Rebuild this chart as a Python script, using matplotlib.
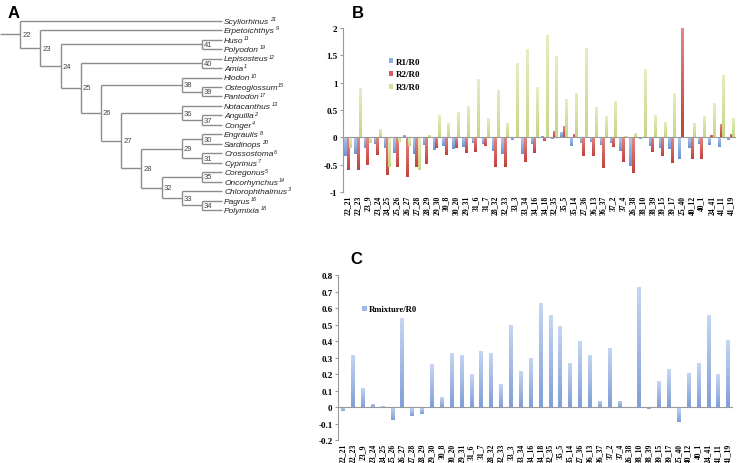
import numpy as np
import matplotlib
matplotlib.use('Agg')
import matplotlib.pyplot as plt
from matplotlib.colors import LinearSegmentedColormap

# ---- data ----
branches = ['22_21', '22_23', '23_9', '23_24', '24_25', '25_26', '26_27', '27_28', '28_29', '29_30',
            '30_8', '30_20', '29_31', '31_6', '31_7', '28_32', '32_33', '33_3', '33_34', '34_16',
            '34_18', '32_35', '35_5', '35_14', '27_36', '36_13', '36_37', '37_2', '37_4', '26_38',
            '38_10', '38_39', '39_15', '39_17', '25_40', '40_12', '40_1', '24_41', '41_11', '41_19']
r1 = [-0.35, -0.3, -0.2, -0.12, -0.2, -0.28, 0.05, -0.3, -0.14, -0.24,
      -0.15, -0.22, -0.18, -0.1, -0.12, -0.25, -0.3, -0.05, -0.3, -0.12,
      0.03, -0.03, 0.1, -0.16, -0.1, -0.08, -0.14, -0.1, -0.25, -0.53,
      -0.03, -0.15, -0.2, -0.22, -0.4, -0.2, -0.12, -0.14, -0.17, -0.05]
r2 = [-0.6, -0.6, -0.5, -0.32, -0.68, -0.55, -0.73, -0.55, -0.49, -0.19,
      -0.33, -0.2, -0.28, -0.27, -0.16, -0.55, -0.55, 0.0, -0.45, -0.28,
      -0.07, 0.12, 0.2, 0.06, -0.35, -0.35, -0.57, -0.18, -0.46, -0.65,
      0.0, -0.26, -0.35, -0.47, 2.0, -0.39, -0.39, 0.05, 0.24, 0.07]
r3 = [-0.2, 0.9, -0.1, 0.15, -0.55, -0.08, -0.15, -0.6, 0.05, 0.40,
      0.26, 0.46, 0.58, 1.06, 0.35, 0.87, 0.26, 1.36, 1.62, 0.92,
      1.87, 1.49, 0.70, 0.82, 1.63, 0.55, 0.39, 0.66, 0.03, 0.08,
      1.25, 0.40, 0.28, 0.82, 0.0, 0.26, 0.39, 0.62, 1.14, 0.36]
rmix = [-0.02, 0.32, 0.12, 0.02, 0.005, -0.08, 0.54, -0.05, -0.04, 0.26,
        0.06, 0.33, 0.32, 0.2, 0.34, 0.33, 0.14, 0.5, 0.22, 0.3,
        0.63, 0.56, 0.49, 0.27, 0.4, 0.32, 0.04, 0.36, 0.04, 0.003,
        0.73, -0.01, 0.16, 0.23, -0.09, 0.21, 0.27, 0.56, 0.2, 0.41]

tips = ['Scyliorhinus', 'Erpetoichthys', 'Huso', 'Polyodon', 'Lepisosteus', 'Amia', 'Hiodon',
        'Osteoglossum', 'Pantodon', 'Notacanthus', 'Anguilla', 'Conger', 'Engraulis', 'Sardinops',
        'Crossostoma', 'Cyprinus', 'Coregonus', 'Oncorhynchus', 'Chlorophthalmus', 'Pagrus', 'Polymixia']
tip_refs = [21, 9, 11, 19, 12, 1, 10, 15, 17, 13, 2, 4, 8, 20, 6, 7, 5, 14, 3, 16, 18]
# node label -> (depth, children)
clades = {
    22: (1, ['Scyliorhinus', 23]),
    23: (2, ['Erpetoichthys', 24]),
    24: (3, [41, 25]),
    41: (10, ['Huso', 'Polyodon']),
    25: (4, [40, 26]),
    40: (10, ['Lepisosteus', 'Amia']),
    26: (5, [38, 27]),
    38: (9, ['Hiodon', 39]),
    39: (10, ['Osteoglossum', 'Pantodon']),
    27: (6, [36, 28]),
    36: (9, ['Notacanthus', 37]),
    37: (10, ['Anguilla', 'Conger']),
    28: (7, [29, 32]),
    29: (9, [30, 31]),
    30: (10, ['Engraulis', 'Sardinops']),
    31: (10, ['Crossostoma', 'Cyprinus']),
    32: (8, [35, 33]),
    35: (10, ['Coregonus', 'Oncorhynchus']),
    33: (9, ['Chlorophthalmus', 34]),
    34: (10, ['Pagrus', 'Polymixia']),
}
TIP_DEPTH = 11

W, H = 739, 464
fig = plt.figure(figsize=(W / 100, H / 100), dpi=100)
fig.patch.set_facecolor('white')


def gradient_bars(ax, bars, top_color, bottom_color):
    cmap = LinearSegmentedColormap.from_list('grad', [bottom_color, top_color])
    ramp = np.linspace(0, 1, 64).reshape(-1, 1)
    for b in bars:
        x0, y0 = b.get_xy()
        bw, bh = b.get_width(), b.get_height()
        if bh == 0:
            continue
        lo, hi = min(y0, y0 + bh), max(y0, y0 + bh)
        b.set_facecolor('none')
        b.set_edgecolor('none')
        im = ax.imshow(ramp, extent=[x0, x0 + bw, lo, hi], origin='lower', aspect='auto',
                       cmap=cmap, zorder=b.get_zorder(), interpolation='bilinear')
        im.set_clip_path(b)


# ---- A: tree (axes in pixel units) ----
axA = fig.add_axes([0, 0, 300 / W, 1])
axA.set_xlim(0, 300)
axA.set_ylim(H, 0)
axA.axis('off')

x_step, y0, y_step = 20.2, 21.7, 9.47
line_kw = dict(color='#8c8c8c', lw=1.0, solid_capstyle='butt')


def depth(n):
    return TIP_DEPTH if isinstance(n, str) else clades[n][0]


def ypos(n):
    if isinstance(n, str):
        return y0 + tips.index(n) * y_step
    kids = clades[n][1]
    return (ypos(kids[0]) + ypos(kids[-1])) / 2


for node, (d, kids) in clades.items():
    nx = d * x_step
    ys = [ypos(k) for k in kids]
    axA.plot([nx, nx], [ys[0], ys[-1]], **line_kw)
    for k, ky in zip(kids, ys):
        axA.plot([nx, depth(k) * x_step], [ky, ky], **line_kw)
    axA.text(nx + 2, ypos(node), str(node), fontsize=5.5, color='#444444',
             va='center', ha='left', family='Liberation Sans')

axA.plot([0, clades[22][0] * x_step], [ypos(22), ypos(22)], **line_kw)

renderer = fig.canvas.get_renderer()
tip_font = dict(style='italic', family=['Liberation Sans Narrow', 'Liberation Sans'], color='#222222')
for name, ref in zip(tips, tip_refs):
    ty = ypos(name)
    t = axA.text(TIP_DEPTH * x_step + 2, ty + 0.4, name, fontsize=6.0, va='center', ha='left', **tip_font)
    bb = t.get_window_extent(renderer)
    x_end = axA.transData.inverted().transform((bb.x1, bb.y1))[0]
    axA.text(x_end + 0.4, ty - 2.2, str(ref), fontsize=4.0, va='center', ha='left', **tip_font)

fig.text(8 / W, 1 - 14 / H, 'A', fontsize=12, fontweight='bold', family='Liberation Sans',
         va='center', ha='left')

serif = dict(family='Liberation Serif', fontweight='bold')
x = np.arange(len(branches))
axis_grey = '#9a9a9a'

# ---- B ----
axB = fig.add_axes([343 / W, 1 - 193 / H, 393 / W, 164 / H])
w = 0.25
b1 = axB.bar(x - w, r1, w, color='#8eaee0', label='R1/R0')
b2 = axB.bar(x, r2, w, color='#d6605c', label='R2/R0')
b3 = axB.bar(x + w, r3, w, color='#d5e29e', label='R3/R0')
gradient_bars(axB, b1, '#b3c8ee', '#6f93d2')
gradient_bars(axB, b2, '#e58884', '#c0423e')
gradient_bars(axB, b3, '#e6eec4', '#c6d684')
axB.set_xlim(-0.5, len(branches) - 0.5)
axB.set_ylim(-1, 2)
axB.axhline(0, color=axis_grey, lw=0.8)
yt = [-1, -0.5, 0, 0.5, 1, 1.5, 2]
axB.set_yticks(yt)
axB.set_yticklabels(['%g' % v for v in yt], fontsize=6.5, **serif)
axB.set_xticks(x)
axB.set_xticklabels(branches, rotation=90, fontsize=5.5, **serif)
axB.tick_params(axis='x', length=0, pad=2)
axB.tick_params(axis='y', length=2, color=axis_grey, pad=2)
for s in ['top', 'right', 'bottom']:
    axB.spines[s].set_visible(False)
axB.spines['left'].set_color(axis_grey)
axB.spines['left'].set_linewidth(0.8)
axB.legend(handles=[b1, b2, b3], loc='upper left', bbox_to_anchor=(384 / W, 1 - 54 / H),
           bbox_transform=fig.transFigure, frameon=False, handlelength=0.5, handleheight=0.5,
           handletextpad=0.3, labelspacing=0.55, borderpad=0,
           prop=dict(size=6.5, family='Liberation Serif', weight='bold'))
for h, c in zip(axB.get_legend().legend_handles, ['#8eaee0', '#d6605c', '#d5e29e']):
    h.set_facecolor(c)
fig.text(352 / W, 1 - 13 / H, 'B', fontsize=12, fontweight='bold', family='Liberation Sans',
         va='center', ha='left')

# ---- C ----
axC = fig.add_axes([338 / W, 1 - 441.3 / H, 395 / W, 165 / H])
bc = axC.bar(x, rmix, 0.35, color='#9fb8e6', label='Rmixture/R0')
gradient_bars(axC, bc, '#c6d6f3', '#809fd8')
axC.set_xlim(-0.5, len(branches) - 0.5)
axC.set_ylim(-0.2, 0.8)
axC.axhline(0, color=axis_grey, lw=0.8)
ytc = np.round(np.arange(-0.2, 0.81, 0.1), 1)
axC.set_yticks(ytc)
axC.set_yticklabels(['%g' % v for v in ytc], fontsize=6.5, **serif)
axC.set_xticks(x)
axC.set_xticklabels(branches, rotation=90, fontsize=5.5, **serif)
axC.tick_params(axis='x', length=0, pad=2)
axC.tick_params(axis='y', length=2, color=axis_grey, pad=2)
for s in ['top', 'right', 'bottom']:
    axC.spines[s].set_visible(False)
axC.spines['left'].set_color(axis_grey)
axC.spines['left'].set_linewidth(0.8)
axC.legend(handles=[bc], loc='upper left', bbox_to_anchor=(358 / W, 1 - 302 / H),
           bbox_transform=fig.transFigure, frameon=False, handlelength=0.5, handleheight=0.5,
           handletextpad=0.3, borderpad=0,
           prop=dict(size=6.2, family='Liberation Serif', weight='bold'))
axC.get_legend().legend_handles[0].set_facecolor('#9fb8e6')
fig.text(350 / W, 1 - 260 / H, 'C', fontsize=12, fontweight='bold', family='Liberation Sans',
         va='center', ha='left')

fig.savefig('out.png', dpi=100, facecolor='white')
